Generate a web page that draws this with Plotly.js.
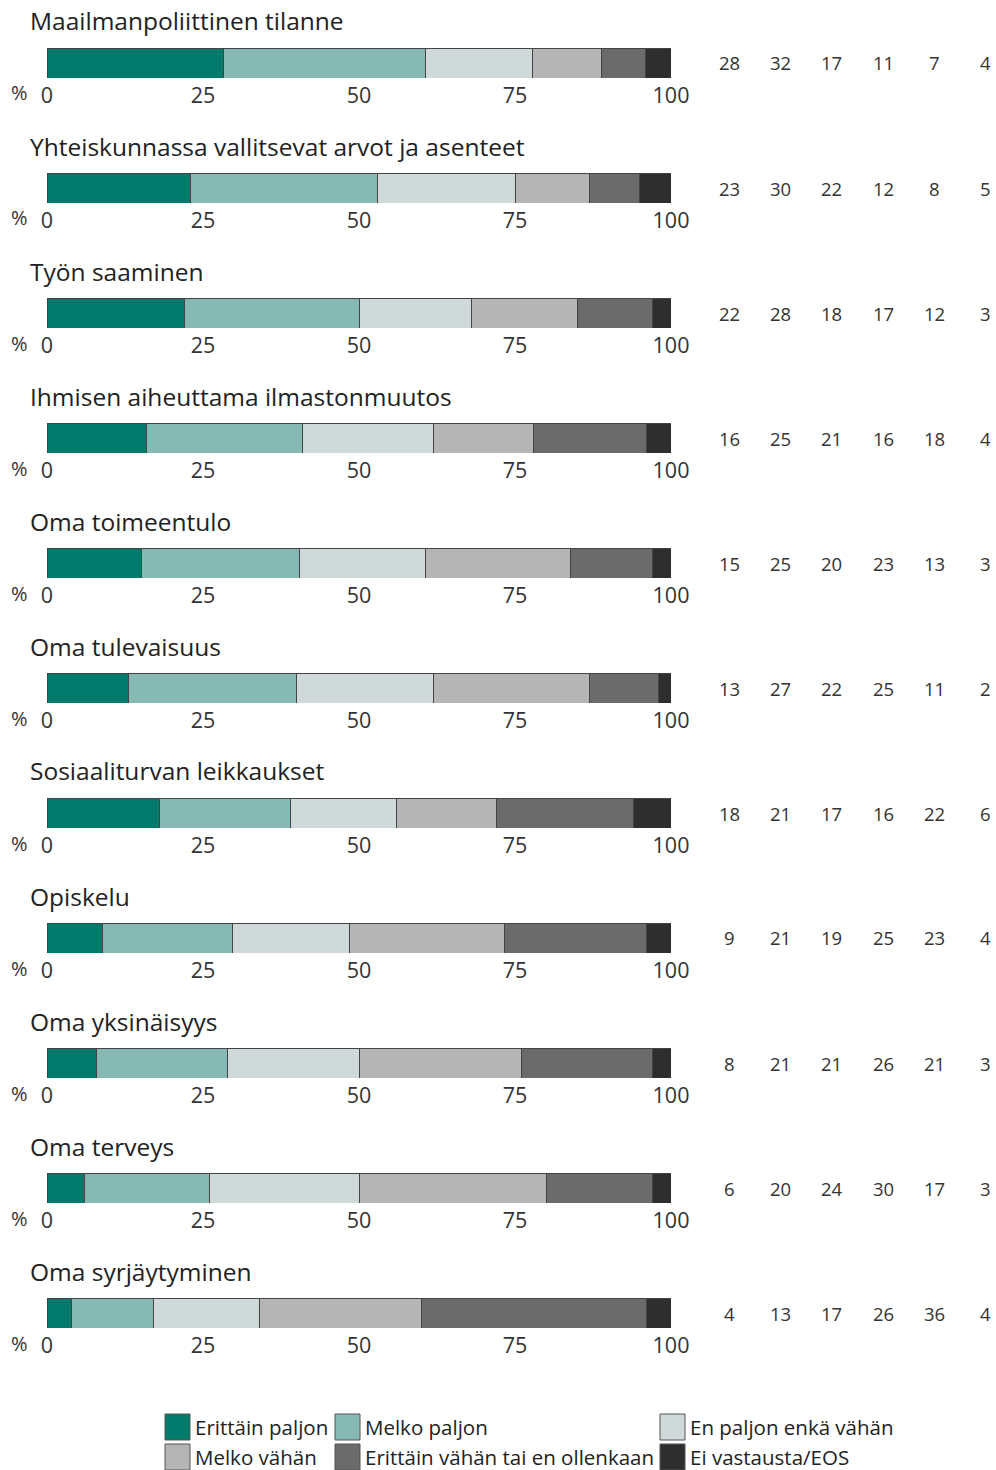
<!DOCTYPE html>
<html><head><meta charset="utf-8">
<script src="https://cdn.plot.ly/plotly-3.0.1.min.js"></script>
<style>body{margin:0;padding:0;background:#fff}#chart{width:996px;height:1470px}</style>
</head><body><div id="chart"></div>
<script>
var topics = ["Maailmanpoliittinen tilanne","Yhteiskunnassa vallitsevat arvot ja asenteet","Työn saaminen","Ihmisen aiheuttama ilmastonmuutos","Oma toimeentulo","Oma tulevaisuus","Sosiaaliturvan leikkaukset","Opiskelu","Oma yksinäisyys","Oma terveys","Oma syrjäytyminen"];
var categories = ["Erittäin paljon","Melko paljon","En paljon enkä vähän","Melko vähän","Erittäin vähän tai en ollenkaan","Ei vastausta/EOS"];
var colors = ["#007a6b","#86b9b3","#cfd9da","#b5b5b5","#6b6b6b","#2e2e2e"];
var erittainPaljon = [28,23,22,16,15,13,18,9,8,6,4];
var melkoPaljon    = [32,30,28,25,25,27,21,21,21,20,13];
var enPaljonEnka   = [17,22,18,21,20,22,17,19,21,24,17];
var melkoVahan     = [11,12,17,16,23,25,16,25,26,30,26];
var erittainVahan  = [7,8,12,18,13,11,22,23,21,17,36];
var eiVastausta    = [4,5,3,4,3,2,6,4,3,3,4];
var tickVals = [0,25,50,75,100];
var tickText = ["0","25","50","75","100"];

var series = [erittainPaljon,melkoPaljon,enPaljonEnka,melkoVahan,erittainVahan,eiVastausta];
var W=996,H=1470,FONT="Open Sans, Noto Sans, sans-serif";
var px=function(x){return x/W;}, py=function(y){return 1-y/H;};
var data=[],annotations=[],shapes=[];
var layout={width:W,height:H,margin:{l:0,r:0,t:0,b:0},barmode:'stack',barnorm:'percent',bargap:0,
  showlegend:false,paper_bgcolor:'#fff',plot_bgcolor:'#fff',font:{family:FONT,color:'#222'}};
var step=125;
topics.forEach(function(t,i){
  var sx=i===0?'':String(i+1);
  var top=48+step*i,bot=78+step*i;
  layout['xaxis'+sx]={domain:[px(47),px(671)],range:[0,100],anchor:'y'+sx,tickvals:tickVals,ticktext:tickText,
    showgrid:false,zeroline:false,showline:false,ticks:'',ticklabelstandoff:2,tickfont:{size:21.5,color:'#333',family:FONT},fixedrange:true};
  layout['yaxis'+sx]={domain:[py(bot),py(top)],range:[-0.5,0.5],anchor:'x'+sx,showticklabels:false,showgrid:false,zeroline:false,fixedrange:true};
  series.forEach(function(s,k){
    data.push({type:'bar',orientation:'h',x:[s[i]],y:[0],width:[1],xaxis:'x'+sx,yaxis:'y'+sx,
      marker:{color:colors[k],line:{color:'#444',width:1}},name:categories[k],hoverinfo:'skip'});
    annotations.push({xref:'paper',yref:'paper',x:px(729.5+51.2*k),y:py((top+bot)/2),text:String(s[i]),showarrow:false,
      xanchor:'center',yanchor:'middle',font:{size:18.5,color:'#333',family:FONT}});
  });
  annotations.push({xref:'paper',yref:'paper',x:px(28),y:py(21+step*i),text:t,showarrow:false,xanchor:'left',yanchor:'middle',
    font:{size:24.5,color:'#222',family:FONT}});
  annotations.push({xref:'paper',yref:'paper',x:px(19),y:py(93+step*i),text:'%',showarrow:false,xanchor:'center',yanchor:'middle',
    font:{size:20,color:'#333',family:FONT}});
});
// legend
var legX=[165,335,660],legY=[1427,1457];
categories.forEach(function(c,k){
  var col=k%3,row=Math.floor(k/3);
  var x0=legX[col],yc=legY[row];
  shapes.push({type:'rect',xref:'paper',yref:'paper',x0:px(x0),x1:px(x0+25),y0:py(yc+13),y1:py(yc-13),
    fillcolor:colors[k],line:{color:'#555',width:1}});
  annotations.push({xref:'paper',yref:'paper',x:px(x0+28),y:py(yc),text:c,showarrow:false,xanchor:'left',yanchor:'middle',
    font:{size:20.5,color:'#222',family:FONT}});
});
layout.annotations=annotations;layout.shapes=shapes;
Plotly.newPlot('chart',data,layout,{displayModeBar:false,staticPlot:true});
</script></body></html>
